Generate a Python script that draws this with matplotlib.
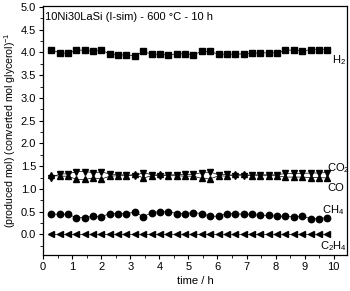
import matplotlib
matplotlib.use('Agg')
import matplotlib.pyplot as plt
import numpy as np

plt.rcParams['font.family'] = ['Liberation Sans', 'DejaVu Sans']
plt.rcParams['font.size'] = 8
plt.rcParams['mathtext.fontset'] = 'custom'
plt.rcParams['mathtext.rm'] = 'Liberation Sans'
plt.rcParams['mathtext.it'] = 'Liberation Sans:italic'
plt.rcParams['mathtext.default'] = 'regular'

# time on stream (h)
t = [0.29, 0.58, 0.86, 1.15, 1.44, 1.72, 2.01, 2.30, 2.59, 2.87,
     3.16, 3.45, 3.74, 4.02, 4.31, 4.60, 4.89, 5.17, 5.46, 5.75,
     6.04, 6.32, 6.61, 6.90, 7.19, 7.47, 7.76, 8.05, 8.33, 8.62,
     8.91, 9.20, 9.48, 9.77]

h2 = [4.05, 3.99, 3.98, 4.05, 4.05, 4.02, 4.05, 3.96, 3.94, 3.95,
      3.92, 4.02, 3.96, 3.96, 3.94, 3.97, 3.97, 3.95, 4.02, 4.02,
      3.96, 3.96, 3.96, 3.97, 3.98, 3.99, 3.99, 3.99, 4.05, 4.05,
      4.03, 4.06, 4.06, 4.06]

co2 = [1.25, 1.33, 1.33, 1.38, 1.38, 1.36, 1.37, 1.33, 1.31, 1.31,
       1.29, 1.36, 1.31, 1.29, 1.31, 1.31, 1.32, 1.32, 1.36, 1.37,
       1.31, 1.32, 1.29, 1.29, 1.31, 1.31, 1.31, 1.31, 1.34, 1.34,
       1.34, 1.35, 1.35, 1.36]

co = [1.30, 1.28, 1.28, 1.21, 1.21, 1.24, 1.22, 1.28, 1.29, 1.29,
      1.32, 1.24, 1.29, 1.32, 1.29, 1.29, 1.28, 1.28, 1.23, 1.22,
      1.29, 1.28, 1.32, 1.32, 1.29, 1.29, 1.29, 1.29, 1.26, 1.26,
      1.26, 1.25, 1.25, 1.24]

ch4 = [0.45, 0.44, 0.44, 0.37, 0.37, 0.40, 0.39, 0.46, 0.46, 0.46,
       0.49, 0.39, 0.48, 0.50, 0.50, 0.46, 0.46, 0.48, 0.46, 0.40,
       0.40, 0.46, 0.45, 0.45, 0.44, 0.42, 0.42, 0.40, 0.40, 0.39,
       0.40, 0.35, 0.35, 0.37]

c2h4 = [0.0] * 34

fig = plt.figure(figsize=(3.5, 2.91), dpi=100)
ax = fig.add_axes([0.123, 0.124, 0.868, 0.857])

kw = dict(color='black', lw=0.5)
ax.plot(t, h2, marker='s', ms=4.3, **kw)
ax.plot(t, co2, marker='v', ms=4.6, **kw)
ax.plot(t, co, marker='^', ms=4.6, **kw)
ax.plot(t, ch4, marker='o', ms=4.6, **kw)
ax.plot(t, c2h4, marker='<', ms=4.8, **kw)

ax.text(9.94, 3.83, 'H$_2$', va='center', ha='left')
ax.text(9.77, 1.45, 'CO$_2$', va='center', ha='left')
ax.text(9.77, 1.01, 'CO', va='center', ha='left')
ax.text(9.6, 0.53, 'CH$_4$', va='center', ha='left')
ax.text(9.51, -0.26, 'C$_2$H$_4$', va='center', ha='left')

ax.text(0.008, 0.975, '10Ni30LaSi (I-sim) - 600 °C - 10 h',
        transform=ax.transAxes, va='top', ha='left')

ax.set_xlim(0, 10.45)
ax.set_ylim(-0.45, 5.03)
ax.set_xticks(range(0, 11))
ax.set_xticks(np.arange(0, 10.5, 0.5), minor=True)
ax.set_yticks(np.arange(0, 5.01, 0.5))
ax.set_yticks(np.arange(-0.25, 5.01, 0.25), minor=True)
ax.yaxis.set_major_formatter(matplotlib.ticker.FormatStrFormatter('%.1f'))
ax.tick_params(which='major', length=3, width=0.8, direction='out', pad=2)
ax.tick_params(which='minor', length=2, width=0.6, direction='out')
for s in ax.spines.values():
    s.set_linewidth(0.9)

ax.set_xlabel('time / h', labelpad=3)
ax.set_ylabel('(produced mol) (converted mol glycerol)$^{-1}$',
              fontsize=7.6, labelpad=2)

fig.savefig('out.png', dpi=100)
